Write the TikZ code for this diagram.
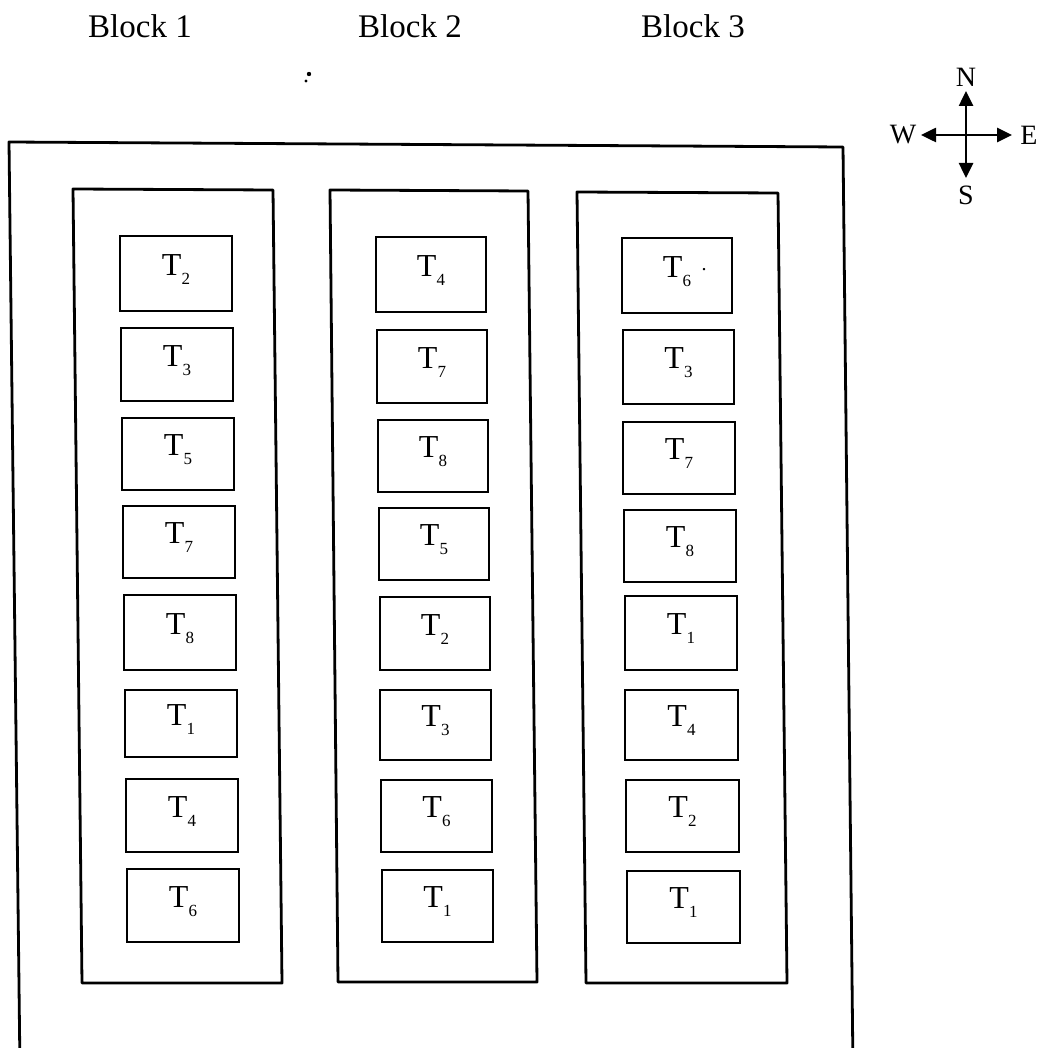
\documentclass[tikz,border=0pt]{standalone}
\usepackage{fontspec}
\setmainfont{Liberation Serif}
\usetikzlibrary{arrows.meta}
\tikzset{
  frame/.style={line width=2.8pt, line join=round},
  tbox/.style={draw, line width=2.8pt, inner sep=0pt},
  tlabel/.style={font=\fontsize{32}{32}\selectfont, inner sep=0pt, yshift=4pt},
  blocklabel/.style={font=\fontsize{33}{35}\selectfont, inner sep=0pt},
  compassarrow/.style={line width=2.6pt, -{Triangle[length=15pt,width=14pt]}},
  dirlabel/.style={font=\fontsize{28}{30}\selectfont, inner sep=0pt}
}
\newcommand\tb[6]{%
  \node[tbox, minimum width={#4-#2}, minimum height={#5-#3}] (#1) at ({(#2+#4)/2},{(#3+#5)/2}) {};
  \node[tlabel] (#1l) at (#1.center) {T\raisebox{-9pt}{\fontsize{17}{17}\selectfont #6}};
}
\begin{document}
\begin{tikzpicture}[x=1pt,y=-1pt]
\useasboundingbox (0,0) rectangle (1041,1048);
\clip (0,0) rectangle (1041,1048);
\fill[white] (0,0) rectangle (1041,1048);

% block titles
\node[blocklabel] (b1) at (140,26) {Block 1};
\node[blocklabel] (b2) at (410,26) {Block 2};
\node[blocklabel] (b3) at (693,26) {Block 3};

% specks
\fill (309,74) circle (2.2);
\fill (306,81) circle (1.6);

% compass
\coordinate (c) at (966,135);
\coordinate (cn) at (966,91);
\coordinate (cs) at (966,178);
\coordinate (cw) at (921,135);
\coordinate (ce) at (1012,135);
\draw[compassarrow] (c) -- (cn);
\draw[compassarrow] (c) -- (cs);
\draw[compassarrow] (c) -- (cw);
\draw[compassarrow] (c) -- (ce);
\node[dirlabel] (N) at (966,77) {N};
\node[dirlabel] (S) at (966,195) {S};
\node[dirlabel] (W) at (903,135) {W};
\node[dirlabel] (E) at (1029,135) {E};

% outer field
\draw[frame] (20,1070) -- (9,142) -- (843,147) -- (853,1070);

% blocks
\draw[frame] (73,189) -- (273,190) -- (282,983) -- (82,983) -- cycle;
\draw[frame] (330,190) -- (528,191) -- (537,982) -- (338,982) -- cycle;
\draw[frame] (577,192) -- (778,193) -- (787,983) -- (586,983) -- cycle;

% block 1 plots
\tb{a1}{120}{236}{232}{311}{2}
\tb{a2}{121}{328}{233}{401}{3}
\tb{a3}{122}{418}{234}{490}{5}
\tb{a4}{123}{506}{235}{578}{7}
\tb{a5}{124}{595}{236}{670}{8}
\tb{a6}{125}{690}{237}{757}{1}
\tb{a7}{126}{779}{238}{852}{4}
\tb{a8}{127}{869}{239}{942}{6}

% block 2 plots
\tb{m1}{376}{237}{486}{312}{4}
\tb{m2}{377}{330}{487}{403}{7}
\tb{m3}{378}{420}{488}{492}{8}
\tb{m4}{379}{508}{489}{580}{5}
\tb{m5}{380}{597}{490}{670}{2}
\tb{m6}{380}{690}{491}{760}{3}
\tb{m7}{381}{780}{492}{852}{6}
\tb{m8}{382}{870}{493}{942}{1}

% block 3 plots
\tb{r1}{622}{238}{732}{313}{6}
\tb{r2}{623}{330}{734}{404}{3}
\tb{r3}{623}{422}{735}{494}{7}
\tb{r4}{624}{510}{736}{582}{8}
\tb{r5}{625}{596}{737}{670}{1}
\tb{r6}{625}{690}{738}{760}{4}
\tb{r7}{626}{780}{739}{852}{2}
\tb{r8}{627}{871}{740}{943}{1}
\node[font=\fontsize{20}{20}\selectfont, inner sep=0pt] (r1dot) at (704,270) {.};
\end{tikzpicture}
\end{document}
